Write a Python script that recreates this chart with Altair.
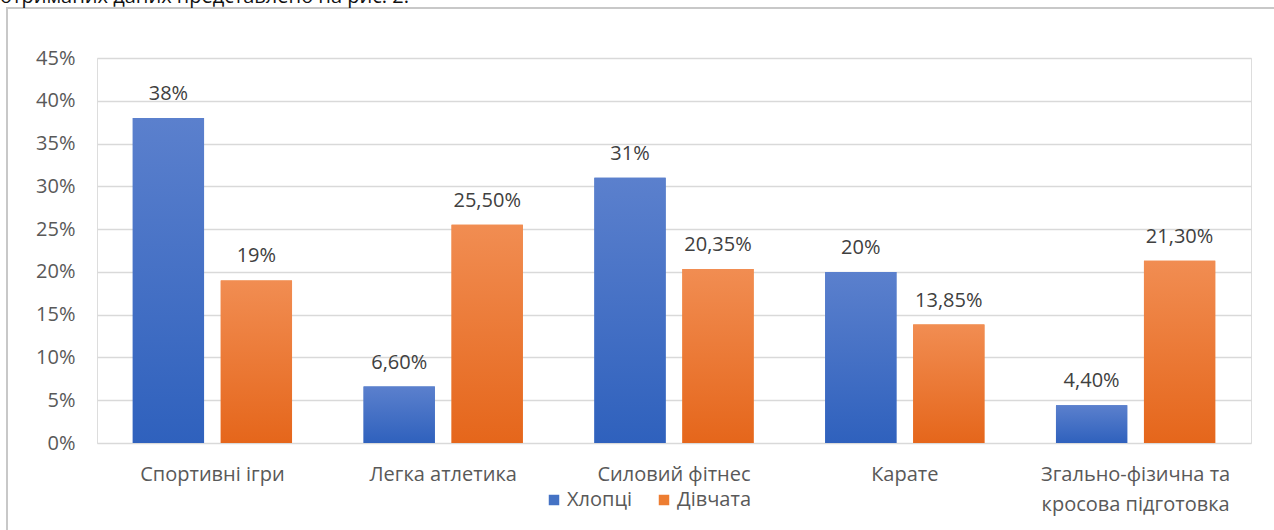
import altair as alt
import pandas as pd

categories = ["Спортивні ігри", "Легка атлетика", "Силовий фітнес", "Карате",
              "Згально-фізична та\nкросова підготовка"]
series = ["Хлопці", "Дівчата"]
boys = [38, 6.6, 31, 20, 4.4]
girls = [19, 25.5, 20.35, 13.85, 21.3]
boys_labels = ["38%", "6,60%", "31%", "20%", "4,40%"]
girls_labels = ["19%", "25,50%", "20,35%", "13,85%", "21,30%"]
y_ticks = [0, 5, 10, 15, 20, 25, 30, 35, 40, 45]
header_text = "отриманих даних представлено на рис. 2."

rows = []
for c, v, l in zip(categories, boys, boys_labels):
    rows.append({"category": c, "series": series[0], "value": v, "label": l})
for c, v, l in zip(categories, girls, girls_labels):
    rows.append({"category": c, "series": series[1], "value": v, "label": l})
df = pd.DataFrame(rows)

FONT = "Open Sans"
AX_COL = "#595959"

x_enc = alt.X("category:N", sort=categories, title=None,
              scale=alt.Scale(paddingInner=0.31, paddingOuter=0.155),
              axis=alt.Axis(labelAngle=0, labelFontSize=20, labelColor=AX_COL, labelFont=FONT,
                            labelPadding=21, labelLineHeight=30, domain=False, ticks=False,
                            labelLimit=400, labelExpr="split(datum.label, '\\n')"))
xo_enc = alt.XOffset("series:N", sort=series,
                     scale=alt.Scale(domain=series, paddingInner=0.19, paddingOuter=0))
y_enc = alt.Y("value:Q", title=None,
              scale=alt.Scale(domain=[0, 45], nice=False),
              axis=alt.Axis(values=y_ticks, labelExpr="datum.value + '%'", labelFontSize=20,
                            labelColor=AX_COL, labelFont=FONT, labelPadding=22,
                            domain=False, ticks=False, gridColor="#d9d9d9", gridWidth=1.3))

base = alt.Chart(df)

solid = base.mark_bar().encode(
    x=x_enc, xOffset=xo_enc, y=y_enc,
    color=alt.Color("series:N", sort=series,
                    scale=alt.Scale(domain=series, range=["#4472c4", "#ed7d31"]),
                    legend=alt.Legend(title=None, orient="none", direction="horizontal",
                                      legendX=447, legendY=432, symbolType="square",
                                      symbolSize=110, labelFontSize=20, labelFont=FONT,
                                      labelColor=AX_COL, columnPadding=22, labelOffset=3,
                                      symbolStrokeWidth=0))
)

def grad(top, bottom):
    return alt.Gradient(gradient="linear",
                        stops=[alt.GradientStop(color=top, offset=0),
                               alt.GradientStop(color=bottom, offset=1)],
                        x1=0, x2=0, y1=0, y2=1)

blue_bars = base.transform_filter(alt.datum.series == series[0]).mark_bar(
    fill=grad("#5b80cd", "#2f61bd")).encode(x=x_enc, xOffset=xo_enc, y=y_enc)
orange_bars = base.transform_filter(alt.datum.series == series[1]).mark_bar(
    fill=grad("#f18d52", "#e5661b")).encode(x=x_enc, xOffset=xo_enc, y=y_enc)

labels = base.mark_text(baseline="bottom", dy=-14, fontSize=20, font=FONT, color="#404040").encode(
    x=x_enc, xOffset=xo_enc, y=y_enc, text="label:N")

frame = alt.Chart(pd.DataFrame({"a": [0]})).mark_rect(
    fillOpacity=0, stroke="#c8c8c8", strokeWidth=2).encode(
    x=alt.value(-90), x2=alt.value(1260), y=alt.value(-50), y2=alt.value(520))

header = alt.Chart(pd.DataFrame({"t": [header_text]})).mark_text(
    align="left", baseline="alphabetic", fontSize=20, font=FONT, color="#111111").encode(
    x=alt.value(-97), y=alt.value(-55), text="t:N")

chart = alt.layer(frame, header, solid, blue_bars, orange_bars, labels).properties(
    width=1154, height=385,
    autosize=alt.AutoSizeParams(type="none"),
    padding={"left": 97, "top": 58, "right": 23, "bottom": 87},
).configure_view(stroke=None).configure(background="white")

chart.save("out.html", embed_options={"renderer": "svg", "actions": False})
